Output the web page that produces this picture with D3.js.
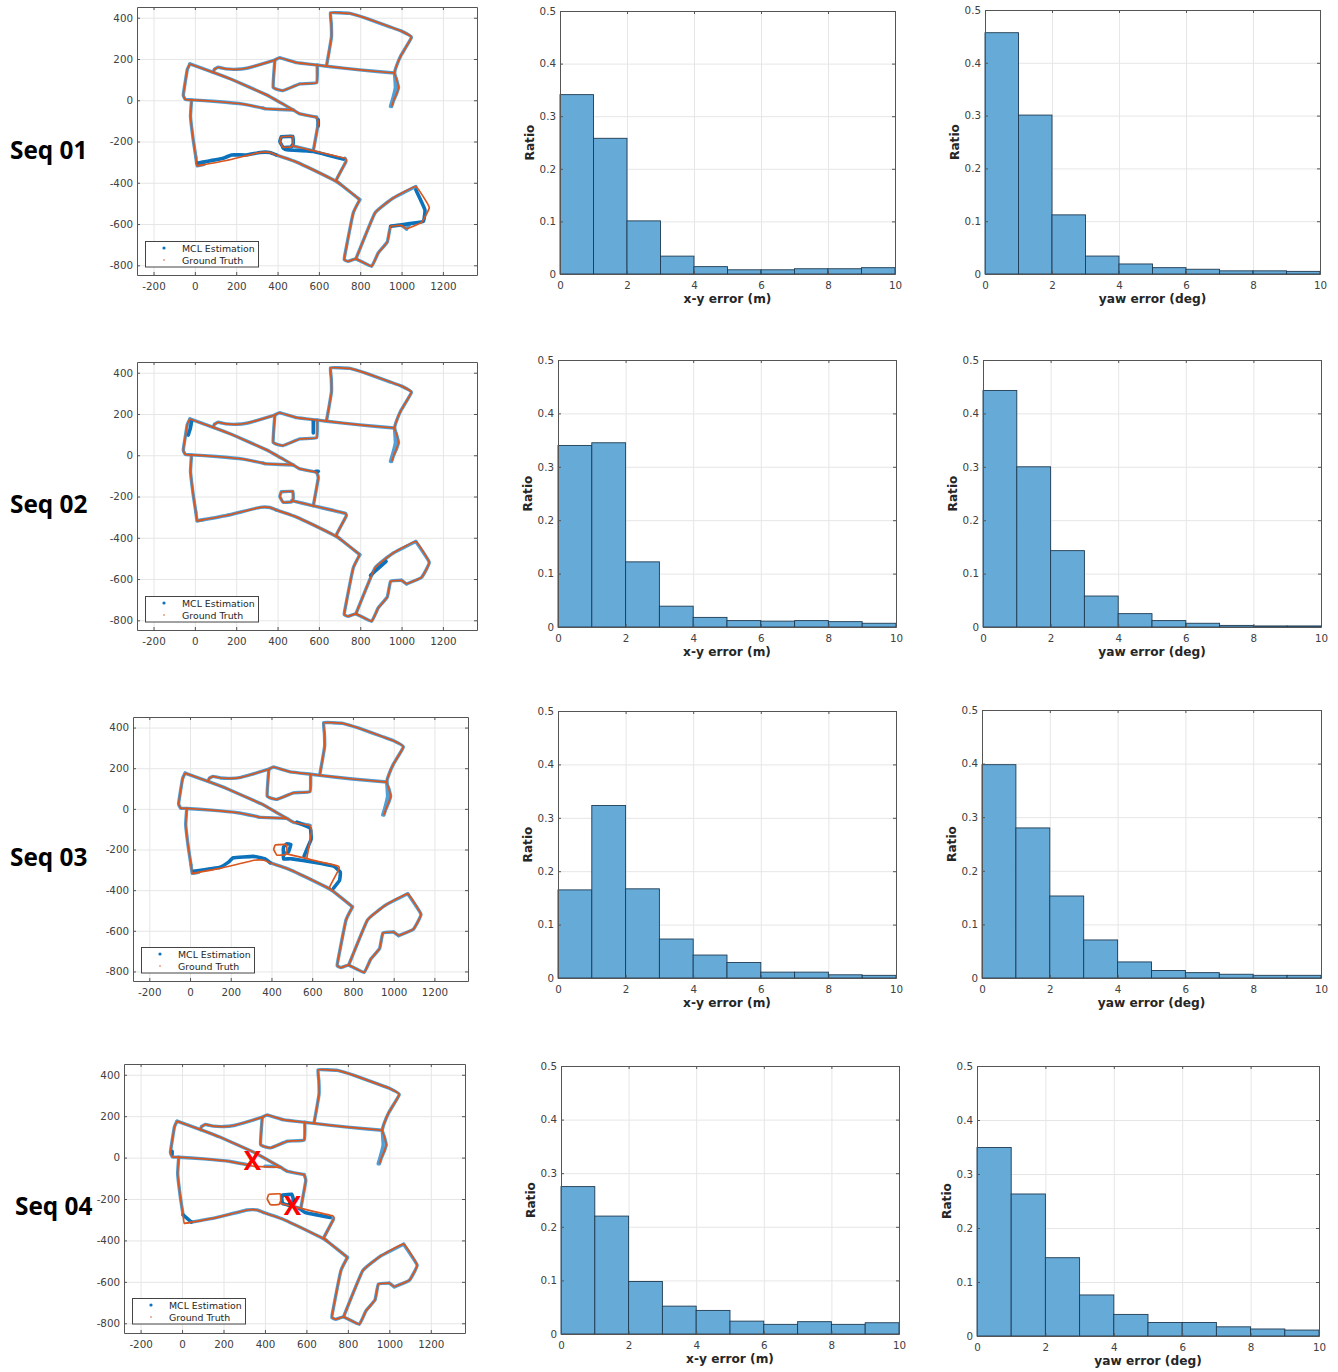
<!DOCTYPE html>
<html>
<head>
<meta charset="utf-8">
<script src="https://cdn.jsdelivr.net/npm/d3@7"></script>
<style>
  html, body { margin: 0; padding: 0; background: #fff; }
  svg { display: block; }
  text { font-family: "DejaVu Sans", sans-serif; }
  .tick text { fill: #404040; font-size: 10.3px; }
  .seq-label { font-family: "Open Sans", sans-serif; font-weight: 700; font-size: 24.4px; fill: #000; }
  .axis-label { font-weight: 700; font-size: 12.2px; fill: #262626; }
  .legend-text { font-size: 9.4px; fill: #262626; }
  .crash { font-family: "Open Sans", sans-serif; font-weight: 700; font-size: 26px; fill: #ff0000; }
</style>
</head>
<body>
<script>
const seqLabels = ["Seq 01", "Seq 02", "Seq 03", "Seq 04"];
const binEdges = [0, 1, 2, 3, 4, 5, 6, 7, 8, 9];

const xyRatio01 = [0.341, 0.258, 0.101, 0.034, 0.014, 0.008, 0.008, 0.01, 0.01, 0.012];
const xyRatio02 = [0.34, 0.345, 0.122, 0.039, 0.018, 0.012, 0.011, 0.012, 0.01, 0.007];
const xyRatio03 = [0.165, 0.323, 0.167, 0.073, 0.043, 0.029, 0.011, 0.011, 0.006, 0.005];
const xyRatio04 = [0.275, 0.22, 0.098, 0.052, 0.044, 0.024, 0.018, 0.023, 0.018, 0.021];
const yawRatio01 = [0.457, 0.301, 0.112, 0.034, 0.019, 0.012, 0.009, 0.006, 0.006, 0.005];
const yawRatio02 = [0.443, 0.3, 0.143, 0.058, 0.025, 0.012, 0.007, 0.003, 0.002, 0.002];
const yawRatio03 = [0.398, 0.28, 0.153, 0.071, 0.03, 0.014, 0.01, 0.007, 0.005, 0.005];
const yawRatio04 = [0.349, 0.263, 0.145, 0.076, 0.04, 0.025, 0.025, 0.017, 0.013, 0.011];

const mapXTicks = [-200, 0, 200, 400, 600, 800, 1000, 1200];
const mapYTicks = [-800, -600, -400, -200, 0, 200, 400];
const histXTicks = [0, 2, 4, 6, 8, 10];
const histYTicks = [0, 0.1, 0.2, 0.3, 0.4, 0.5];

// track pieces shared by all sequences, map coordinates in metres
const northBlock = [[952, -30], [962, 0], [975, 30], [985, 62], [976, 100], [966, 130], [975, 165], [998, 219], [1048, 305], [1000, 335], [943, 356], [830, 397], [750, 421], [700, 424], [656, 424], [660, 370], [661, 308], [650, 240], [637, 168]];
const northSpur = [[946, -30], [958, 10], [970, 60], [966, 130]];
const crossStreet = [[966, 132], [798, 147], [637, 165], [589, 171], [492, 182], [411, 206], [387, 195], [298, 168], [250, 155], [202, 150], [150, 152], [113, 160], [94, 150], [89, 135]];
const westDiagonal = [[-24, 176], [89, 135], [185, 98], [347, 26], [420, -15], [476, -47], [508, -66], [589, -82]];
const westCap = [[-24, 176], [-37, 147], [-56, 26], [-45, 3], [-16, 2], [105, -6], [234, -19], [330, -38]];
const westReturn = [[330, -38], [347, -42], [476, -47]];
const westSide = [[-16, 2], [-21, -79], [-8, -192], [5, -277]];
const innerBlock = [[387, 195], [379, 63], [427, 47], [508, 79], [589, 85], [592, 171]];
const southStreet = [[393, -265], [492, -300], [669, -385], [702, -405], [798, -482]];
const southLoop = [[798, -482], [766, -547], [726, -748], [723, -773], [742, -781], [779, -769], [855, -805], [887, -740], [931, -687], [947, -611], [1000, -606]];
const farEast = [[1024, -624], [1097, -592], [1134, -519], [1069, -418], [960, -474], [871, -547], [779, -769]];

// pieces where the ground truth and the estimate come apart
const gtCorner = [[5, -277], [11, -318], [45, -311]];
const gtBottom = [[11, -318], [153, -292], [315, -253], [363, -253], [393, -265]];
const gtEast = [[589, -82], [597, -111], [573, -245]];
const gtPocket = [[418, -177], [473, -175], [476, -208], [468, -226], [427, -228], [411, -200], [418, -177]];
const gtMid = [[468, -220], [574, -245], [726, -281], [731, -297], [685, -385], [702, -405]];
const gtBend = [[1000, -606], [1024, -624]];
const gtEdge = [[1024, -624], [1097, -592], [1134, -519], [1069, -418]];

const mclBottom01 = [[11, -305], [137, -281], [177, -265], [250, -265], [315, -253], [363, -253], [393, -265]];
const mclMid01 = [[427, -232], [444, -240], [573, -248], [718, -285]];
const mclEdge01 = [[1069, -434], [1113, -531], [1105, -587], [1040, -598], [947, -611]];
const mclBlob01 = [[597, -95], [597, -125]];
const mclBlob02a = [[-32, 98], [-22, 130], [-16, 163]];
const mclBlob02b = [[573, 165], [573, 108]];
const mclBlob02c = [[585, -78], [597, -78]];
const mclBlob02d = [[850, -582], [880, -555], [925, -515]];
const mclEast03 = [[525, -66], [590, -95], [595, -148], [582, -180], [560, -233]];
const mclPocket03 = [[475, -172], [495, -175], [483, -213], [459, -221], [459, -189], [475, -172]];
const mclMid03 = [[459, -221], [459, -246], [500, -246], [607, -262], [705, -282], [738, -311], [734, -352], [705, -390]];
const mclBottom03 = [[16, -307], [148, -287], [189, -262], [213, -241], [311, -234], [369, -246], [393, -265]];
const mclCorner04 = [[5, -277], [45, -311]];
const mclPocket04 = [[485, -181], [529, -177], [537, -205], [513, -229], [485, -221], [481, -197], [485, -181]];
const mclMid04 = [[513, -229], [569, -248], [594, -265], [714, -289]];
const mclReturn04a = [[400, -42], [445, -43]];
const mclReturn04b = [[465, -45], [476, -47]];
const mclBlob04 = [[-48, 15], [-48, 30]];
const mclBottom04 = [[45, -311], [153, -292], [315, -253], [363, -253], [393, -265]];
const mclEnd01a = [[468, -220], [574, -245]];
const mclEnd01b = [[726, -281], [731, -297], [685, -385], [702, -405]];
const mclEnd01c = [[1024, -624], [1040, -598]];
const mclEnd03 = [[589, -82], [525, -66]];
const mclEnd04 = [[714, -289], [731, -297], [685, -385], [702, -405]];

const shared = [northBlock, northSpur, crossStreet, westDiagonal, westCap, westSide, innerBlock, southStreet, southLoop, farEast.slice(3)];
const gtTrack = [northBlock, crossStreet, westDiagonal, westCap, westReturn, westSide, innerBlock, southStreet, southLoop, farEast, gtCorner, gtBottom, gtEast, gtPocket, gtMid, gtBend];

const mclThin = [
  [...shared, westReturn, gtCorner, gtEast, mclEnd01a, mclEnd01b, gtBend, mclEnd01c],
  [...shared, westReturn, gtCorner, gtBottom, gtEast, gtPocket, gtMid, gtBend, gtEdge],
  [...shared, westReturn, gtCorner, mclEnd03, gtBend, gtEdge],
  [...shared, mclReturn04a, mclReturn04b, mclBottom04, gtEast, mclEnd04, gtBend, gtEdge],
];
const mclThick = [
  [mclBottom01, gtPocket, mclMid01, mclEdge01, mclBlob01],
  [mclBlob02a, mclBlob02b, mclBlob02c, mclBlob02d],
  [mclEast03, mclPocket03, mclMid03, mclBottom03],
  [mclCorner04, mclPocket04, mclMid04, mclBlob04],
];
const crossPoints = [[340, -15], [533, -236]];

const xyRatios = [xyRatio01, xyRatio02, xyRatio03, xyRatio04];
const yawRatios = [yawRatio01, yawRatio02, yawRatio03, yawRatio04];

// axes boxes on the page: left, top, right, bottom
const mapBoxes = [[137, 7, 477, 275], [137, 362, 477, 630], [133, 717, 468, 981], [124, 1064, 465, 1333]];
const xyBoxes = [[560, 11, 895, 274], [558, 360, 896, 627], [558, 711, 896, 978], [561, 1066, 899, 1334]];
const yawBoxes = [[985, 10, 1320, 274], [983, 360, 1321, 627], [982, 710, 1321, 978], [977, 1066, 1319, 1336]];
const labelRows = [150, 504, 857, 1206];
const labelLefts = [10, 10, 10, 15];
const legendSpots = [[145, 241], [145, 596], [141, 947], [132, 1298]];

const svg = d3.select("body").append("svg").attr("width", 1338).attr("height", 1372);

function drawFrame(g, box, x, y, xTicks, yTicks) {
  const w = box[2] - box[0];
  const h = box[3] - box[1];

  const grid = g.append("g");
  grid.append("g").attr("transform", `translate(0,${h})`)
    .call(d3.axisBottom(x).tickValues(xTicks).tickSize(-h).tickFormat(""));
  grid.append("g")
    .call(d3.axisLeft(y).tickValues(yTicks).tickSize(-w).tickFormat(""));
  grid.selectAll(".domain").remove();
  grid.selectAll("line").attr("stroke", "#e6e6e6").attr("stroke-width", 1);
}

function drawAxes(g, box, x, y, xTicks, yTicks) {
  const w = box[2] - box[0];
  const h = box[3] - box[1];

  const bottom = g.append("g").attr("transform", `translate(0,${h})`)
    .call(d3.axisBottom(x).tickValues(xTicks).tickSizeInner(-3).tickSizeOuter(0).tickPadding(8).tickFormat(String));
  const left = g.append("g")
    .call(d3.axisLeft(y).tickValues(yTicks).tickSizeInner(-3).tickSizeOuter(0).tickPadding(4).tickFormat(String));
  const top = g.append("g")
    .call(d3.axisTop(x).tickValues(xTicks).tickSizeInner(-3).tickSizeOuter(0).tickFormat(""));
  const right = g.append("g").attr("transform", `translate(${w},0)`)
    .call(d3.axisRight(y).tickValues(yTicks).tickSizeInner(-3).tickSizeOuter(0).tickFormat(""));

  [bottom, left, top, right].forEach((a) => {
    a.selectAll(".domain").attr("stroke", "#555").attr("stroke-width", 1);
    a.selectAll("line").attr("stroke", "#555");
  });
}

function drawMap(i) {
  const box = mapBoxes[i];
  const g = svg.append("g").attr("transform", `translate(${box[0]},${box[1]})`);
  const x = d3.scaleLinear().domain([-280, 1365]).range([0, box[2] - box[0]]);
  const y = d3.scaleLinear().domain([-847, 452]).range([box[3] - box[1], 0]);
  const line = d3.line().x((d) => x(d[0])).y((d) => y(d[1])).curve(d3.curveCardinal.tension(0.7));

  drawFrame(g, box, x, y, mapXTicks, mapYTicks);

  g.append("g").selectAll("path").data(mclThin[i]).enter().append("path")
    .attr("d", line).attr("fill", "none").attr("stroke", "#4f9fd6")
    .attr("stroke-width", 3.4).attr("stroke-linecap", "round").attr("stroke-linejoin", "round");
  g.append("g").selectAll("path").data(mclThick[i]).enter().append("path")
    .attr("d", line).attr("fill", "none").attr("stroke", "#0b72bb")
    .attr("stroke-width", 3.6).attr("stroke-linecap", "round").attr("stroke-linejoin", "round");
  g.append("g").selectAll("path").data(gtTrack).enter().append("path")
    .attr("d", line).attr("fill", "none").attr("stroke", "#d9561f")
    .attr("stroke-width", 1.7).attr("stroke-linejoin", "round");

  drawAxes(g, box, x, y, mapXTicks, mapYTicks);

  const spot = legendSpots[i];
  const legend = svg.append("g").attr("transform", `translate(${spot[0]},${spot[1]})`);
  legend.append("rect").attr("x", 0.5).attr("y", 0.5).attr("width", 113).attr("height", 25.5)
    .attr("fill", "#fff").attr("stroke", "#444");
  legend.append("circle").attr("cx", 19).attr("cy", 7).attr("r", 1.6).attr("fill", "#0b72bb");
  legend.append("circle").attr("cx", 19).attr("cy", 19).attr("r", 0.8).attr("fill", "#d9561f");
  legend.append("text").attr("class", "legend-text").attr("x", 37).attr("y", 10.5).text("MCL Estimation");
  legend.append("text").attr("class", "legend-text").attr("x", 37).attr("y", 22.5).text("Ground Truth");

  if (i === 3) {
    svg.append("g").selectAll("text").data(crossPoints).enter().append("text")
      .attr("class", "crash").attr("text-anchor", "middle")
      .attr("x", (d) => box[0] + x(d[0])).attr("y", (d) => box[1] + y(d[1]) + 9).text("X");
  }
}

function drawHist(box, values, xLabel) {
  const g = svg.append("g").attr("transform", `translate(${box[0]},${box[1]})`);
  const w = box[2] - box[0];
  const h = box[3] - box[1];
  const x = d3.scaleLinear().domain([0, 10]).range([0, w]);
  const y = d3.scaleLinear().domain([0, 0.5]).range([h, 0]);

  drawFrame(g, box, x, y, histXTicks, histYTicks);

  g.append("g").selectAll("rect").data(values).enter().append("rect")
    .attr("x", (d, k) => x(binEdges[k]))
    .attr("y", (d) => y(d))
    .attr("width", (d, k) => x(binEdges[k] + 1) - x(binEdges[k]))
    .attr("height", (d) => h - y(d))
    .attr("fill", "#66aad7").attr("stroke", "#1f3b52").attr("stroke-width", 0.9);

  drawAxes(g, box, x, y, histXTicks, histYTicks);

  g.append("text").attr("class", "axis-label").attr("text-anchor", "middle")
    .attr("x", w / 2).attr("y", h + 29).text(xLabel);
  g.append("text").attr("class", "axis-label").attr("text-anchor", "middle")
    .attr("transform", `translate(-26,${h / 2}) rotate(-90)`).text("Ratio");
}

seqLabels.forEach((label, i) => {
  svg.append("text").attr("class", "seq-label")
    .attr("x", labelLefts[i]).attr("y", labelRows[i] + 9).text(label);
  drawMap(i);
  drawHist(xyBoxes[i], xyRatios[i], "x-y error (m)");
  drawHist(yawBoxes[i], yawRatios[i], "yaw error (deg)");
});
</script>
</body>
</html>
